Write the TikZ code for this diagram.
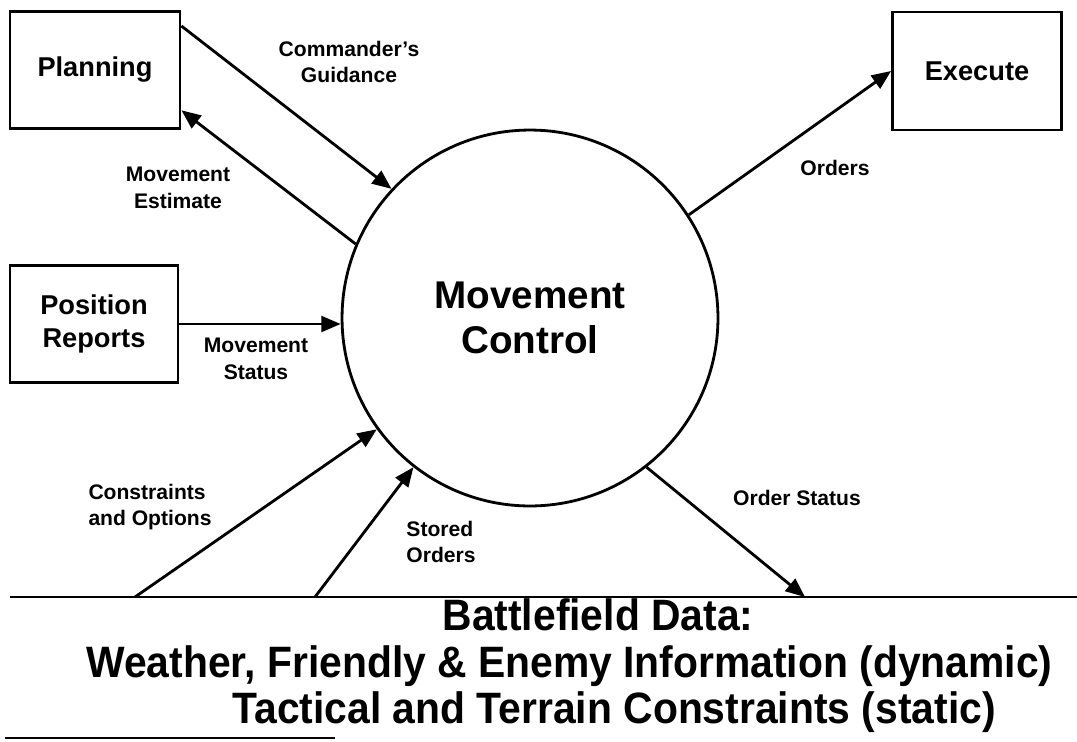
\documentclass[tikz,border=0pt]{standalone}
\usepackage{fontspec}
\setmainfont{Liberation Sans}
\newfontfamily\datafont[FakeStretch=0.93]{Liberation Sans}
\usetikzlibrary{positioning,arrows.meta}

\begin{document}
\begin{tikzpicture}[x=0.02cm, y=-0.02cm,
    box/.style={draw, line width=1.6pt, minimum width=3.4cm, minimum height=2.34cm,
      font=\fontsize{15.5}{19}\selectfont\bfseries, align=center},
    bubble/.style={draw, circle, line width=1.6pt, minimum size=7.52cm,
      font=\fontsize{22}{25.5}\selectfont\bfseries, align=center},
    flow/.style={line width=1.6pt, -{Triangle[length=11pt,width=9pt]}},
    lbl/.style={font=\fontsize{12}{15}\selectfont\bfseries, align=center},
    data/.style={inner sep=0pt, anchor=base west, font=\datafont\fontsize{25}{29}\selectfont\bfseries}]

        % Page frame
        \useasboundingbox (0,0) rectangle (1077,741);

        % --- Processes ---
        \node[box] (plan) at (95,70) {Planning};
        \node[box, minimum width=3.38cm, minimum height=2.36cm] (exec) at (977,71) {Execute};
        \node[box, minimum width=3.36cm] (posrep) at (94,324) {Position\\Reports};
        \node[bubble] (mc) at (530,318) {Movement\\Control};

        % --- Data store lines ---
        \coordinate (bl) at (10,597);
        \coordinate (br) at (1077,597);
        \coordinate (co) at (135,597);
        \coordinate (so) at (315,597);
        \coordinate (os) at (805,597);
        \coordinate (fl) at (5,738);
        \coordinate (fr) at (335,738);
        \draw[line width=1.6pt] (bl) -- (br);
        \draw[line width=1.6pt] (fl) -- (fr);

        % --- Flows ---
        \draw[flow] (plan.27) -- (mc.137);
        \draw[flow] (mc.157) -- (plan.-25);
        \draw[flow] (posrep.east) -- (posrep.east -| mc.west);
        \draw[flow] (mc.33) -- (exec.west);
        \draw[flow] (co) -- (mc.216);
        \draw[flow] (so) -- (mc.232);
        \draw[flow] (mc.-52) -- (os);

        % --- Flow labels ---
        \node[lbl] (cg) at (349,62) {Commander's\\Guidance};
        \node[lbl] (me) at (178,188) {Movement\\Estimate};
        \node[lbl] (ms) at (256,359) {Movement\\Status};
        \node[lbl, align=left] (con) at (150,507) {Constraints\\and Options};
        \node[lbl, align=left] (sto) at (441,542) {Stored\\Orders};
        \node[lbl] (ost) at (797,498) {Order Status};
        \node[lbl] (ord) at (835,168) {Orders};

        % --- Data store text ---
        \node[data, anchor=base] (bd) at (598,630) {Battlefield Data:};
        \node[data] (dyn) at (86,677) {Weather, Friendly \& Enemy Information (dynamic)};
        \node[data] (sta) at (232,723) {Tactical and Terrain Constraints (static)};

    \end{tikzpicture}
\end{document}
